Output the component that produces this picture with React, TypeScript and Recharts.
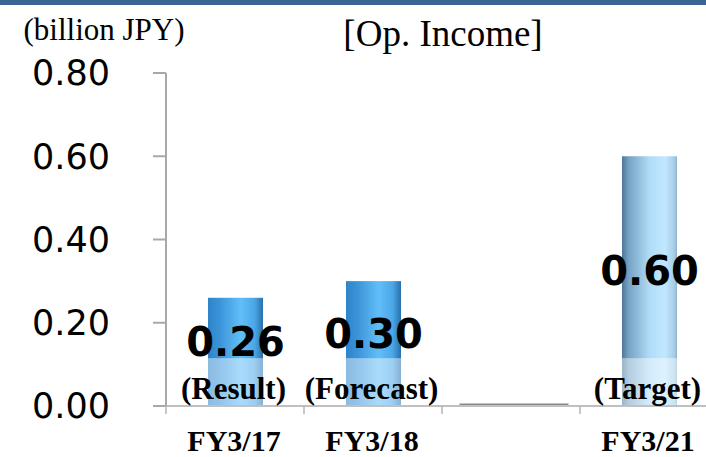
import { BarChart, Bar, XAxis, YAxis, LabelList } from "recharts";

const categories = ["FY3/17", "FY3/18", "", "FY3/21"];
const opIncome = [0.26, 0.3, 0, 0.6];
const notes = ["(Result)", "(Forecast)", "", "(Target)"];
const yTicks = [0, 0.2, 0.4, 0.6, 0.8];

const data = categories.map((name, i) => ({
  name,
  value: opIncome[i],
  note: notes[i],
}));

const CHART_W = 720;
const CHART_H = 457;
const Y_W = 166;
const RIGHT = 2;
const BAND = (CHART_W - Y_W - RIGHT) / categories.length;
// lighter band painted over the lower part of the bars
const FADE_TO = 0.115;

const serif = "'Liberation Serif', 'Times New Roman', serif";
const sans = "'DejaVu Sans', Verdana, sans-serif";

function BarShape(props: any) {
  const { x, y, width, height, payload } = props;
  const bottom = y + height;
  if (!payload.value) {
    const cx = x + width / 2;
    return (
      <line x1={cx - 52} x2={cx + 57} y1={bottom - 1} y2={bottom - 1} stroke="#8a8a8a" strokeWidth={3} />
    );
  }
  const fadeTop = bottom - height * (FADE_TO / payload.value);
  const fill = payload.note === "(Target)" ? "url(#gLight)" : "url(#gDark)";
  return (
    <g>
      <rect x={x} y={y} width={width} height={height} fill={fill} />
      <rect x={x} y={fadeTop} width={width} height={bottom - fadeTop} fill="#fff" fillOpacity={0.45} />
    </g>
  );
}

function ValueLabel(props: any) {
  const { x, y, width, height, value } = props;
  if (!value) return null;
  return (
    <text
      x={x + width / 2}
      y={y + height / 2 - 10}
      textAnchor="middle"
      dominantBaseline="central"
      fontFamily={sans}
      fontWeight="bold"
      fontSize={40}
      fill="#000"
    >
      {value.toFixed(2)}
    </text>
  );
}

function NoteLabel(props: any) {
  const { x, y, width, height, value } = props;
  if (!value) return null;
  return (
    <text
      x={x + width / 2 - 2}
      y={y + height - 7}
      textAnchor="middle"
      fontFamily={serif}
      fontWeight="bold"
      fontSize={31}
      fill="#000"
    >
      {value}
    </text>
  );
}

function CatTick(props: any) {
  const { x, y, payload } = props;
  return (
    <g>
      <line x1={x - BAND / 2} x2={x - BAND / 2} y1={y} y2={y + 8} stroke="#b4b4b4" strokeWidth={1.5} />
      <text x={x - 1} y={y + 45} textAnchor="middle" fontFamily={serif} fontWeight="bold" fontSize={30} fill="#000">
        {payload.value}
      </text>
    </g>
  );
}

export default function App() {
  return (
    <div style={{ position: "absolute", left: 0, top: 0, width: 706, height: 457, overflow: "hidden", background: "#fff" }}>
      <div style={{ position: "absolute", left: 0, top: 0, width: 706, height: 5, background: "#3b6494" }} />
      <svg width={706} height={60} style={{ position: "absolute", left: 0, top: 0 }}>
        <text x={104} y={40} textAnchor="middle" fontFamily={serif} fontSize={31} fill="#000">
          (billion JPY)
        </text>
        <text x={443} y={46} textAnchor="middle" fontFamily={serif} fontSize={37} fill="#000">
          [Op. Income]
        </text>
      </svg>
      <div style={{ position: "absolute", left: 0, top: 0 }}>
        <BarChart
          width={CHART_W}
          height={CHART_H}
          data={data}
          margin={{ top: 73, right: RIGHT, left: 0, bottom: 0 }}
          barSize={55}
        >
          <defs>
            <linearGradient id="gDark" x1="0" y1="0" x2="1" y2="0">
              <stop offset="0" stopColor="#2f84c8" />
              <stop offset="0.2" stopColor="#3a93d8" />
              <stop offset="0.6" stopColor="#62bef8" />
              <stop offset="0.85" stopColor="#4aa6e6" />
              <stop offset="1" stopColor="#2870ac" />
            </linearGradient>
            <linearGradient id="gLight" x1="0" y1="0" x2="1" y2="0">
              <stop offset="0" stopColor="#4f7596" />
              <stop offset="0.12" stopColor="#76a2c4" />
              <stop offset="0.5" stopColor="#b0dcf8" />
              <stop offset="0.78" stopColor="#c2e8ff" />
              <stop offset="0.95" stopColor="#a6cde8" />
              <stop offset="1" stopColor="#8cb2cc" />
            </linearGradient>
          </defs>
          <XAxis
            dataKey="name"
            height={51}
            axisLine={{ stroke: "#c0c0c0", strokeWidth: 2 }}
            tickLine={false}
            tickSize={0}
            tickMargin={0}
            interval={0}
            tick={<CatTick />}
          />
          <YAxis
            width={Y_W}
            domain={[0, 0.8]}
            ticks={yTicks}
            tickFormatter={(v: number) => v.toFixed(2)}
            axisLine={{ stroke: "#a8a8a8", strokeWidth: 2 }}
            tickLine={{ stroke: "#a8a8a8", strokeWidth: 2 }}
            tickSize={13}
            tickMargin={43}
            tick={{ fill: "#000", fontSize: 35, fontFamily: sans }}
          />
          <Bar dataKey="value" shape={<BarShape />} isAnimationActive={false}>
            <LabelList dataKey="value" content={<ValueLabel />} />
            <LabelList dataKey="note" content={<NoteLabel />} />
          </Bar>
        </BarChart>
      </div>
    </div>
  );
}
